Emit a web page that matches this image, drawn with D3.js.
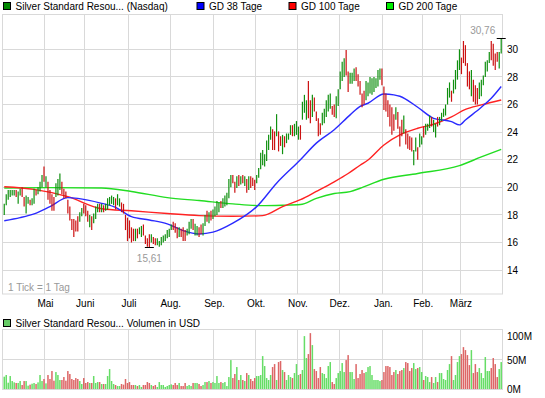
<!DOCTYPE html>
<html>
<head>
<meta charset="utf-8">
<title>Silver Standard Resources</title>
<script src="https://cdnjs.cloudflare.com/ajax/libs/d3/7.8.5/d3.min.js"></script>
<style>
  body { margin: 0; background: #fff; }
  #chart { display: block; font-family: "Liberation Sans", Arial, sans-serif; }
</style>
</head>
<body>
<svg id="chart" width="545" height="398"></svg>
<script>
// daily bars, April 2010 - March 2011 (trading days)
var highs = [
  18.8, 19.5, 19.8, 19.8, 19.8, 19.8, 19.8, 19.7, 19.9, 20.0,
  19.3, 19.4, 19.3, 19.1, 19.2, 19.9, 19.8, 20.0, 20.4, 20.9,
  21.5, 20.8, 20.4, 19.8, 19.5, 19.3, 20.3, 20.6, 21.0, 20.4,
  19.9, 19.7, 19.1, 18.6, 17.7, 17.7, 17.6, 17.9, 18.2, 18.5,
  18.8, 18.7, 18.3, 18.0, 17.9, 18.1, 18.6, 18.8, 18.8, 18.8,
  18.7, 18.8, 19.2, 19.3, 19.4, 19.3, 19.2, 19.5, 19.2, 18.9,
  18.8, 18.0, 17.8, 17.6, 17.1, 17.0, 17.0, 17.0, 17.1, 17.2,
  17.3, 16.5, 16.3, 16.6, 16.6, 16.4, 16.3, 16.3, 16.1, 16.4,
  16.5, 16.6, 16.9, 17.0, 17.3, 17.5, 17.4, 17.1, 17.1, 17.0,
  17.1, 16.9, 17.0, 17.5, 17.7, 17.7, 17.35, 17.2, 17.1, 17.3,
  17.4, 18.0, 18.3, 18.2, 18.3, 18.4, 18.6, 19.0, 18.9, 19.0,
  19.2, 19.4, 19.6, 20.6, 20.9, 20.9, 20.4, 20.8, 20.9, 20.8,
  20.9, 20.8, 20.6, 20.8, 20.8, 20.7, 20.55, 20.9, 21.4, 22.5,
  22.7, 22.4, 23.4, 23.8, 24.4, 24.2, 24.05, 25.3, 24.05, 23.7,
  23.8, 23.7, 23.9, 23.9, 24.5, 24.5, 24.6, 24.8, 24.4, 24.5,
  26.2, 26.7, 26.3, 27.7, 26.3, 26.7, 26.5, 25.5, 25.0, 24.65,
  25.4, 25.7, 26.3, 26.7, 26.8, 25.9, 26.0, 26.6, 27.1, 28.4,
  29.1, 29.35, 29.95, 28.4, 28.3, 28.3, 28.6, 28.7, 28.2, 27.7,
  26.8, 27.0, 27.7, 27.6, 28.0, 27.9, 28.0, 27.9, 28.5, 28.6,
  28.6, 27.3, 26.8, 26.3, 26.0, 25.8, 25.3, 25.8, 25.45, 24.4,
  24.9, 25.2, 24.2, 23.9, 23.7, 23.6, 22.7, 23.6, 22.9, 23.9,
  23.7, 24.4, 24.6, 24.6, 25.2, 25.1, 24.9, 24.6, 25.1, 25.1,
  25.4, 25.7, 26.0, 27.2, 27.6, 27.0, 27.8, 28.5, 29.2, 30.0,
  29.4, 30.6, 30.3, 29.0, 28.4, 28.5, 27.8, 27.4, 27.2, 27.6,
  27.8, 28.1, 29.1, 29.2, 29.8, 30.6, 30.4, 29.7, 29.8, 29.8,
  30.76
];
var lows = [
  18.0, 18.7, 19.1, 19.3, 19.4, 19.4, 19.3, 18.8, 19.4, 19.3,
  18.6, 18.1, 18.8, 18.7, 18.7, 18.8, 19.4, 19.5, 19.7, 20.0,
  20.4, 20.0, 19.1, 18.8, 18.3, 18.3, 19.3, 19.4, 19.8, 19.5,
  19.2, 19.2, 18.1, 17.6, 16.9, 16.4, 16.8, 16.8, 17.5, 17.9,
  18.1, 17.9, 17.5, 17.1, 16.9, 17.4, 17.7, 18.2, 18.2, 18.2,
  18.2, 18.3, 18.4, 18.7, 18.8, 18.7, 18.4, 18.7, 18.6, 18.2,
  18.1, 16.9, 16.1, 16.3, 16.0, 16.1, 16.1, 16.3, 16.6, 16.4,
  16.5, 15.9, 15.7, 15.61, 16.0, 15.9, 15.8, 15.8, 15.7, 15.8,
  16.0, 16.1, 16.3, 16.4, 16.9, 16.9, 16.7, 16.3, 16.4, 16.4,
  16.1, 16.1, 16.5, 16.6, 17.0, 16.9, 16.5, 16.5, 16.4, 16.6,
  16.5, 17.2, 17.5, 17.4, 17.6, 17.7, 17.9, 18.0, 18.2, 18.5,
  18.5, 18.6, 18.7, 19.2, 20.0, 20.3, 19.6, 19.95, 20.1, 20.2,
  20.3, 20.1, 19.6, 19.8, 19.95, 20.1, 19.8, 20.3, 20.7, 21.3,
  21.6, 21.5, 21.9, 22.7, 23.45, 22.7, 22.7, 23.7, 22.6, 23.0,
  22.4, 22.9, 23.2, 23.45, 23.8, 23.7, 23.7, 23.8, 23.45, 23.45,
  24.9, 25.4, 24.9, 25.0, 24.65, 25.1, 25.5, 24.8, 23.7, 23.8,
  24.5, 24.65, 25.1, 25.5, 25.7, 25.25, 25.1, 25.0, 25.9, 27.1,
  27.7, 28.0, 28.1, 26.9, 27.5, 27.5, 27.7, 27.7, 27.3, 26.7,
  25.8, 26.0, 26.3, 26.6, 26.8, 26.7, 26.9, 27.2, 27.3, 27.8,
  27.4, 25.6, 25.5, 25.1, 24.4, 23.8, 24.1, 24.9, 24.25, 22.95,
  23.7, 23.9, 23.1, 22.8, 22.7, 22.6, 21.6, 22.6, 22.0, 22.9,
  23.1, 23.6, 23.8, 24.1, 24.3, 24.4, 24.0, 23.6, 24.4, 24.5,
  24.8, 25.1, 25.2, 26.0, 26.5, 26.2, 26.8, 27.1, 27.8, 28.5,
  28.2, 29.0, 28.8, 27.3, 27.1, 26.6, 26.2, 26.0, 26.0, 26.4,
  26.6, 27.4, 28.0, 28.4, 29.0, 29.2, 28.8, 28.5, 29.1, 28.6,
  29.7
];
// 1 = closed up (green), 0 = closed down (red)
var upDays = [
  1,1,1,1,1,1,0,1,1,0, 0,1,1,0,1,1,0,1,1,1, 0,1,0,0,0,0,1,1,1,0,
  0,0,0,0,0,0,0,0,1,1, 0,0,0,1,0,1,1,1,0,1, 0,1,1,1,1,1,0,1,1,0,
  0,0,0,0,0,0,1,0,1,1, 0,0,0,0,1,0,0,1,1,1, 1,1,1,1,1,0,0,0,1,0,
  0,0,1,1,1,0,1,1,0,0, 1,1,0,1,0,1,1,1,1,0, 1,1,1,1,1,0,0,1,0,1,
  0,1,0,1,0,0,0,1,1,1, 1,1,1,1,1,0,0,1,0,0, 1,0,1,1,1,0,1,1,1,0,
  1,1,1,0,0,1,0,0,0,0, 1,1,1,1,1,0,0,1,1,1, 1,1,0,0,1,1,1,0,0,0,
  0,0,1,1,1,1,1,1,1,1, 0,0,0,0,0,0,0,1,0,0, 0,1,0,0,0,0,1,1,0,1,
  1,0,1,1,1,0,1,1,0,1, 1,1,1,1,1,0,1,1,1,1, 0,0,0,0,0,1,0,0,0,1,
  1,1,1,1,1,0,0,0,0,1, 1
];
// volume in million USD
var volumes = [
  20.7, 23.5, 10.6, 21.8, 13.4, 11.2, 10.1, 10.1, 13.4, 6.7,
  13.4, 13.4, 5.6, 7.3, 8.9, 10.1, 8.4, 11.2, 23.5, 13.4,
  16.8, 9.5, 23.5, 16.8, 30.2, 14.0, 28.5, 23.5, 15.1, 15.1,
  20.1, 14.0, 30.2, 25.2, 16.8, 15.1, 18.4, 16.8, 13.4, 8.4,
  18.4, 10.1, 11.7, 10.1, 10.1, 21.8, 10.1, 11.7, 11.7, 8.4,
  8.4, 8.4, 21.8, 33.5, 13.4, 8.4, 6.7, 5.0, 5.0, 8.4,
  7.3, 16.8, 10.1, 11.7, 6.7, 6.7, 6.7, 5.0, 6.7, 3.4,
  6.7, 6.7, 11.7, 10.1, 6.7, 5.0, 6.7, 3.4, 11.7, 6.7,
  6.7, 3.4, 5.0, 6.7, 7.8, 6.7, 10.1, 6.7, 10.1, 5.0,
  5.0, 10.1, 5.0, 6.7, 5.0, 10.1, 10.1, 10.1, 8.4, 5.0,
  6.7, 11.7, 11.7, 13.4, 10.1, 11.7, 10.1, 21.8, 10.1, 11.7,
  10.1, 11.7, 5.0, 20.1, 48.6, 18.4, 25.2, 36.9, 15.1, 23.5,
  15.1, 13.4, 26.8, 23.5, 16.8, 13.4, 18.4, 21.8, 21.8, 23.5,
  55.3, 38.6, 18.4, 15.1, 23.5, 36.9, 41.9, 15.1, 45.3, 47.0,
  31.9, 28.5, 15.1, 23.5, 20.1, 18.4, 26.8, 41.9, 23.5, 25.2,
  31.9, 88.9, 52.0, 58.7, 93.9, 73.8, 33.5, 30.2, 18.4, 36.9,
  26.8, 25.2, 18.4, 38.6, 45.3, 11.7, 8.4, 18.4, 26.8, 30.2,
  43.6, 28.5, 48.6, 57.0, 28.5, 28.5, 16.8, 41.9, 18.4, 25.2,
  31.9, 26.8, 28.5, 36.9, 38.6, 23.5, 15.1, 15.1, 15.1, 13.4,
  15.1, 28.5, 38.6, 38.6, 36.9, 23.5, 28.5, 31.9, 25.2, 30.2,
  31.9, 35.2, 45.3, 43.6, 30.2, 35.2, 43.6, 33.5, 35.2, 36.9,
  28.5, 15.1, 21.8, 20.1, 11.7, 20.1, 10.1, 20.1, 11.7, 26.8,
  26.8, 16.8, 15.1, 31.9, 41.9, 55.3, 15.1, 23.5, 45.3, 55.3,
  58.7, 70.4, 65.4, 57.0, 40.2, 65.4, 26.8, 41.9, 28.5, 35.2,
  26.8, 18.4, 53.7, 30.2, 30.2, 35.2, 52.0, 41.9, 20.1, 33.5,
  45.3
];

// moving averages at sample days
var ma38Days = [0, 8, 15, 23, 32, 37, 49, 56, 64, 73, 82, 90, 98, 105, 115, 127, 137, 149, 157, 166,
                174, 179, 183, 191, 196, 199, 208, 216, 225, 229, 232, 240, 245, 250];
var ma38 = [17.58, 17.8, 18.07, 18.6, 19.25, 19.2, 18.84, 18.55, 17.87, 17.63, 17.35, 16.86, 16.62, 16.75, 17.4, 18.6, 20.3, 22.0, 23.2, 24.17,
            25.25, 25.86, 26.09, 26.76, 26.7, 26.6, 25.8, 25.0, 24.76, 24.52, 24.88, 25.8, 26.45, 27.3];
var ma100Days = [0, 15, 32, 49, 64, 82, 98, 115, 130, 140, 149, 157, 166, 173, 179, 183, 191, 199, 208, 216, 225, 232, 240, 250];
var ma100 = [20.04, 19.85, 19.32, 18.45, 18.3, 18.1, 17.95, 17.9, 17.95, 18.6, 19.1, 19.7, 20.4, 21.0, 21.6, 21.98, 23.07, 23.8, 24.28, 24.57, 25.1, 25.65, 25.97, 26.33];
var ma200Days = [0, 23, 49, 64, 82, 98, 115, 129, 140, 149, 157, 166, 174, 179, 191, 208, 229, 240, 250];
var ma200 = [19.95, 19.98, 19.95, 19.7, 19.25, 19.04, 18.8, 18.67, 18.7, 18.75, 19.2, 19.55, 19.69, 19.93, 20.58, 21.0, 21.57, 22.2, 22.75];

var monthLabels = ['Mai', 'Juni', 'Juli', 'Aug.', 'Sep.', 'Okt.', 'Nov.', 'Dez.', 'Jan.', 'Feb.', 'März'];
var monthStarts = [21, 41, 63, 84, 106, 127, 148, 169, 191, 211, 230];
var priceTicks = [14, 16, 18, 20, 22, 24, 26, 28, 30];
var volumeTicks = [0, 50, 100];

var svg = d3.select('#chart');
var gridColor = '#d9d9d9';
var upColor = '#109010', downColor = '#cc1111';
var volUp = '#66dd66', volDown = '#dd6666';

var x = d3.scaleLinear().domain([0, highs.length]).range([3.25, 502.2]);
var y = d3.scaleLinear().domain([20, 30]).range([187.3, 49.3]);
var yv = d3.scaleLinear().domain([0, 100]).range([389, 329.5]);

function crisp(v) { return Math.round(v - 0.5) + 0.5; }

svg.append('rect').attr('width', 545).attr('height', 398).attr('fill', '#fff');

// ---- grid for both panels
var grid = svg.append('g').attr('stroke', gridColor).attr('fill', 'none');
priceTicks.forEach(function (t) {
    grid.append('line').attr('x1', 3).attr('x2', 503)
        .attr('y1', crisp(y(t))).attr('y2', crisp(y(t)));
});
monthStarts.forEach(function (m) {
    grid.append('line').attr('x1', crisp(x(m))).attr('x2', crisp(x(m)))
        .attr('y1', 14).attr('y2', 294);
    grid.append('line').attr('x1', crisp(x(m))).attr('x2', crisp(x(m)))
        .attr('y1', 329.5).attr('y2', 389);
});
grid.append('line').attr('x1', 3).attr('x2', 503).attr('y1', crisp(yv(50))).attr('y2', crisp(yv(50)));
grid.append('rect').attr('x', 2.5).attr('y', 14.5).attr('width', 500).attr('height', 279.5);
grid.append('rect').attr('x', 2.5).attr('y', 329.5).attr('width', 500).attr('height', 60);

// ---- moving averages
function maLine(days, vals, color) {
    var pts = days.map(function (d, i) { return [d, vals[i]]; });
    var line = d3.line()
        .x(function (p) { return x(p[0] + 0.5); })
        .y(function (p) { return y(p[1]); })
        .curve(d3.curveMonotoneX);
    svg.append('path').datum(pts).attr('d', line)
        .attr('fill', 'none').attr('stroke', color).attr('stroke-width', 1.4);
}
maLine(ma200Days, ma200, '#22dd22');
maLine(ma100Days, ma100, '#ff2222');
maLine(ma38Days, ma38, '#2a2aff');

// ---- price bars (high-low)
svg.append('g').selectAll('line').data(highs).enter().append('line')
    .attr('x1', function (d, i) { return x(i + 0.5); })
    .attr('x2', function (d, i) { return x(i + 0.5); })
    .attr('y1', function (d) { return y(d); })
    .attr('y2', function (d, i) { return y(lows[i]); })
    .attr('stroke', function (d, i) { return upDays[i] ? upColor : downColor; })
    .attr('stroke-width', 1.2);

// min / max markers
var minIdx = d3.minIndex(lows), maxIdx = d3.maxIndex(highs);
var fmt = function (v) { return d3.format('.2f')(v).replace('.', ','); };
svg.append('line').attr('x1', x(minIdx + 0.5) - 4.5).attr('x2', x(minIdx + 0.5) + 4.5)
    .attr('y1', crisp(y(lows[minIdx]))).attr('y2', crisp(y(lows[minIdx]))).attr('stroke', '#000');
svg.append('text').attr('x', x(minIdx + 0.5)).attr('y', y(lows[minIdx]) + 14)
    .attr('text-anchor', 'middle').attr('font-size', 10).attr('fill', '#999').text(fmt(lows[minIdx]));
svg.append('line').attr('x1', x(maxIdx + 0.5) - 4.5).attr('x2', x(maxIdx + 0.5) + 4.5)
    .attr('y1', crisp(y(highs[maxIdx]))).attr('y2', crisp(y(highs[maxIdx]))).attr('stroke', '#000');
svg.append('text').attr('x', x(maxIdx + 0.5) - 6).attr('y', y(highs[maxIdx]) - 5)
    .attr('text-anchor', 'end').attr('font-size', 10).attr('fill', '#999').text(fmt(highs[maxIdx]));

svg.append('text').attr('x', 8).attr('y', 290.5).attr('font-size', 10).attr('fill', '#999').text('1 Tick = 1 Tag');

// ---- volume bars
svg.append('g').selectAll('rect').data(volumes).enter().append('rect')
    .attr('x', function (d, i) { return x(i + 0.5) - 0.75; })
    .attr('width', 1.5)
    .attr('y', function (d) { return yv(d); })
    .attr('height', function (d) { return yv(0) - yv(d); })
    .attr('fill', function (d, i) { return upDays[i] ? volUp : volDown; });

// ---- axes
function styleAxis(g) {
    g.select('.domain').remove();
    g.attr('font-family', null).attr('font-size', 10);
    g.selectAll('text').attr('fill', '#000');
}
svg.append('g').attr('transform', 'translate(503,0)')
    .call(d3.axisRight(y).tickValues(priceTicks).tickSize(0).tickPadding(4))
    .call(styleAxis);
svg.append('g').attr('transform', 'translate(0,294)')
    .call(d3.axisBottom(x).tickValues(monthStarts).tickSize(0).tickPadding(6)
        .tickFormat(function (d, i) { return monthLabels[i]; }))
    .call(styleAxis);
var vAxis = svg.append('g').attr('transform', 'translate(503,0)')
    .call(d3.axisRight(yv).tickValues(volumeTicks).tickSize(0).tickPadding(4)
        .tickFormat(function (d) { return d + 'M'; }))
    .call(styleAxis);
vAxis.selectAll('text').attr('dy', function (d) { return d === 100 ? '1em' : (d === 50 ? '0.45em' : '0.32em'); });

// ---- legends
function legendItem(px, py, color, label) {
    svg.append('rect').attr('x', px + 0.5).attr('y', py + 0.5).attr('width', 7).attr('height', 7)
        .attr('fill', color).attr('stroke', '#000');
    svg.append('text').attr('x', px + 12.5).attr('y', py + 8).attr('font-size', 10).attr('fill', '#000').text(label);
}
legendItem(3, 2, '#008800', 'Silver Standard Resou... (Nasdaq)');
legendItem(196.5, 2, '#0000ff', 'GD 38 Tage');
legendItem(288.5, 2, '#ff0000', 'GD 100 Tage');
legendItem(386, 2, '#00ee00', 'GD 200 Tage');
legendItem(3, 319, '#66cc66', 'Silver Standard Resou... Volumen in USD');
</script>
</body>
</html>
